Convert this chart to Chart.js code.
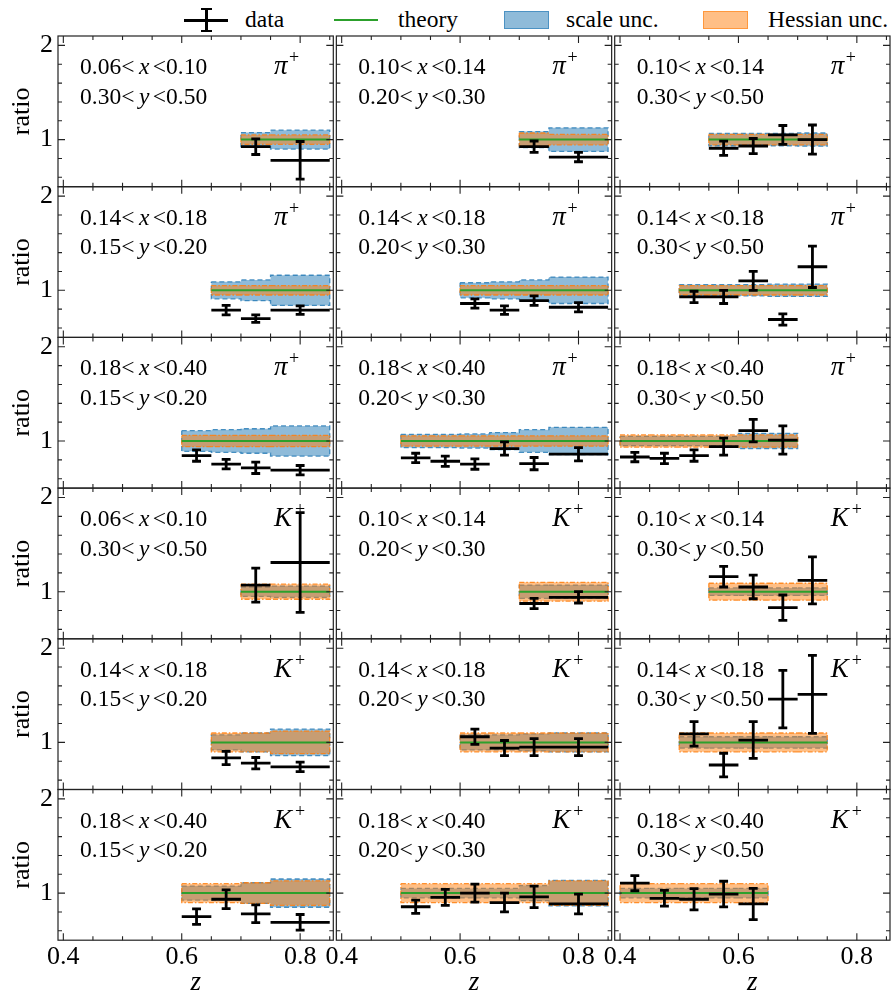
<!DOCTYPE html>
<html>
<head>
<meta charset="utf-8">
<title>Ratio to theory versus z</title>
<script src="https://cdn.jsdelivr.net/npm/chart.js@4.4.1/dist/chart.umd.min.js"></script>
<style>
  html, body { margin: 0; padding: 0; background: #fff; }
  #figure { position: relative; width: 892px; height: 995px; overflow: hidden; background: #fff; }
  #figure canvas { position: absolute; }
  .key { position: absolute; font-family: 'Liberation Serif', 'Times New Roman', serif; font-size: 23.5px; line-height: 23px; color: #000; white-space: nowrap; }
  .sw { position: absolute; box-sizing: border-box; }
</style>
</head>
<body>
<div id="figure">
  <!-- legend -->
  <div class="sw" style="left:184px;top:19px;width:44px;height:2.8px;background:#000"></div>
  <div class="sw" style="left:205px;top:8px;width:2.8px;height:24px;background:#000"></div>
  <div class="sw" style="left:201px;top:8px;width:11px;height:2.2px;background:#000"></div>
  <div class="sw" style="left:201px;top:30px;width:11px;height:2.2px;background:#000"></div>
  <div class="key" style="left:245px;top:8px">data</div>
  <div class="sw" style="left:334px;top:19px;width:44px;height:2px;background:#2ca02c"></div>
  <div class="key" style="left:398px;top:8px">theory</div>
  <div class="sw" style="left:504px;top:11px;width:45px;height:18px;background:rgba(31,119,180,0.5);border:1.5px solid rgba(31,119,180,0.6)"></div>
  <div class="key" style="left:566px;top:8px">scale unc.</div>
  <div class="sw" style="left:703px;top:11px;width:45px;height:18px;background:rgba(255,127,14,0.5);border:1.5px solid rgba(255,127,14,0.6)"></div>
  <div class="key" style="left:768px;top:8px">Hessian unc.</div>
</div>
<script>
// ---- axes ----
const zTicks = [0.4, 0.6, 0.8];
const zTickLabels = ['0.4', '0.6', '0.8'];
const ratioTicks = [1, 2];
const ratioTickLabels = ['1', '2'];
const zRange = [0.391, 0.856];
const ratioRange = [0.5, 2.1];
const theoryRatio = 1;

// ---- panels, row by row (3 columns) ----
const hadron = ['π','π','π','π','π','π','π','π','π','K','K','K','K','K','K','K','K','K'];
const xRange = [
  ['0.06','0.10'], ['0.10','0.14'], ['0.10','0.14'],
  ['0.14','0.18'], ['0.14','0.18'], ['0.14','0.18'],
  ['0.18','0.40'], ['0.18','0.40'], ['0.18','0.40'],
  ['0.06','0.10'], ['0.10','0.14'], ['0.10','0.14'],
  ['0.14','0.18'], ['0.14','0.18'], ['0.14','0.18'],
  ['0.18','0.40'], ['0.18','0.40'], ['0.18','0.40']
];
const yRange = [
  ['0.30','0.50'], ['0.20','0.30'], ['0.30','0.50'],
  ['0.15','0.20'], ['0.20','0.30'], ['0.30','0.50'],
  ['0.15','0.20'], ['0.20','0.30'], ['0.30','0.50'],
  ['0.30','0.50'], ['0.20','0.30'], ['0.30','0.50'],
  ['0.15','0.20'], ['0.20','0.30'], ['0.30','0.50'],
  ['0.15','0.20'], ['0.20','0.30'], ['0.30','0.50']
];
// z bin edges
const zEdges = [
  [0.70, 0.75, 0.85],
  [0.70, 0.75, 0.85],
  [0.55, 0.60, 0.65, 0.70, 0.75],
  [0.65, 0.70, 0.75, 0.85],
  [0.60, 0.65, 0.70, 0.75, 0.85],
  [0.50, 0.55, 0.60, 0.65, 0.70, 0.75],
  [0.60, 0.65, 0.70, 0.75, 0.85],
  [0.50, 0.55, 0.60, 0.65, 0.70, 0.75, 0.85],
  [0.40, 0.45, 0.50, 0.55, 0.60, 0.65, 0.70],
  [0.70, 0.75, 0.85],
  [0.70, 0.75, 0.85],
  [0.55, 0.60, 0.65, 0.70, 0.75],
  [0.65, 0.70, 0.75, 0.85],
  [0.60, 0.65, 0.70, 0.75, 0.85],
  [0.50, 0.55, 0.60, 0.65, 0.70, 0.75],
  [0.60, 0.65, 0.70, 0.75, 0.85],
  [0.50, 0.55, 0.60, 0.65, 0.70, 0.75, 0.85],
  [0.40, 0.45, 0.50, 0.55, 0.60, 0.65]
];
// measured data / theory
const ratio = [
  [0.925, 0.78],
  [0.925, 0.815],
  [0.908, 0.932, 1.05, 1.0],
  [0.79, 0.70, 0.79],
  [0.86, 0.79, 0.89, 0.82],
  [0.93, 0.93, 1.10, 0.69, 1.25],
  [0.845, 0.755, 0.715, 0.69],
  [0.82, 0.785, 0.755, 0.92, 0.76, 0.86],
  [0.83, 0.815, 0.845, 0.94, 1.11, 1.01],
  [1.07, 1.31],
  [0.875, 0.94],
  [1.16, 1.05, 0.83, 1.12],
  [0.835, 0.78, 0.74],
  [1.06, 0.94, 0.95, 0.95],
  [1.09, 0.76, 1.025, 1.46, 1.51],
  [0.75, 0.935, 0.78, 0.69],
  [0.855, 0.955, 1.0, 0.90, 0.96, 0.885],
  [1.105, 0.945, 0.935, 0.99, 0.885]
];
const ratioErr = [
  [0.083, 0.20],
  [0.06, 0.05],
  [0.076, 0.08, 0.10, 0.155],
  [0.05, 0.04, 0.045],
  [0.05, 0.045, 0.05, 0.05],
  [0.06, 0.07, 0.10, 0.06, 0.22],
  [0.06, 0.05, 0.06, 0.05],
  [0.05, 0.055, 0.055, 0.07, 0.065, 0.07],
  [0.05, 0.055, 0.06, 0.09, 0.12, 0.15],
  [0.18, 0.53],
  [0.055, 0.06],
  [0.11, 0.125, 0.135, 0.25],
  [0.07, 0.06, 0.05],
  [0.08, 0.08, 0.09, 0.09],
  [0.13, 0.125, 0.195, 0.305, 0.415],
  [0.083, 0.10, 0.094, 0.083],
  [0.07, 0.085, 0.095, 0.10, 0.115, 0.105],
  [0.08, 0.083, 0.113, 0.136, 0.166]
];
// half-widths of the uncertainty bands around the theory
const scaleUnc = [
  [0.075, 0.10],
  [0.085, 0.125],
  [0.065, 0.065, 0.065, 0.07],
  [0.09, 0.11, 0.16],
  [0.08, 0.09, 0.11, 0.14],
  [0.06, 0.06, 0.06, 0.065, 0.065],
  [0.11, 0.12, 0.13, 0.16],
  [0.07, 0.07, 0.075, 0.09, 0.12, 0.145],
  [0.05, 0.05, 0.05, 0.05, 0.08, 0.08],
  [0.05, 0.06],
  [0.07, 0.07],
  [0.04, 0.04, 0.04, 0.04],
  [0.08, 0.10, 0.14],
  [0.08, 0.08, 0.09, 0.10],
  [0.06, 0.06, 0.06, 0.06, 0.06],
  [0.075, 0.075, 0.11, 0.15],
  [0.05, 0.05, 0.05, 0.05, 0.08, 0.135],
  [0.05, 0.05, 0.05, 0.05, 0.05]
];
const hessUnc = [
  [0.05, 0.05],
  [0.07, 0.055],
  [0.055, 0.055, 0.055, 0.055],
  [0.05, 0.05, 0.05],
  [0.05, 0.05, 0.05, 0.05],
  [0.05, 0.05, 0.05, 0.05, 0.05],
  [0.06, 0.06, 0.06, 0.06],
  [0.055, 0.055, 0.055, 0.055, 0.055, 0.055],
  [0.065, 0.065, 0.065, 0.065, 0.065, 0.065],
  [0.08, 0.08],
  [0.10, 0.10],
  [0.09, 0.09, 0.09, 0.09],
  [0.10, 0.10, 0.12],
  [0.10, 0.10, 0.10, 0.10],
  [0.10, 0.10, 0.10, 0.10, 0.10],
  [0.10, 0.10, 0.11, 0.13],
  [0.10, 0.10, 0.10, 0.10, 0.10, 0.13],
  [0.10, 0.10, 0.10, 0.10, 0.10]
];

// ---- figure geometry ----
const NCOL = 3, NROW = 6;
const COL0 = 58, COLSTEP = 278.35, ROW0 = 36, ROWSTEP = 150.7;
const PW = 275.3, PH = 150.7;
const MARGIN = { l: 58, t: 24, r: 24, b: 62 };
const SERIF = "'Liberation Serif', 'Times New Roman', serif";
const CAP = 0.0075;
const LABEL_PX = 23.5;

function errorBarPoints(edges, vals, errs) {
  const pts = [];
  vals.forEach((v, i) => {
    const lo = edges[i], hi = edges[i + 1], z = (lo + hi) / 2, e = errs[i];
    pts.push({ x: lo, y: v }, { x: hi, y: v }, { x: z, y: null });
    pts.push({ x: z, y: v - e }, { x: z, y: v + e }, { x: z, y: null });
    pts.push({ x: z - CAP, y: v - e }, { x: z + CAP, y: v - e }, { x: z, y: null });
    pts.push({ x: z - CAP, y: v + e }, { x: z + CAP, y: v + e }, { x: z, y: null });
  });
  return pts;
}

function bandPolygon(edges, half) {
  const up = [], dn = [];
  half.forEach((h, i) => { up.push({ x: edges[i], y: theoryRatio + h }, { x: edges[i + 1], y: theoryRatio + h }); });
  for (let i = half.length - 1; i >= 0; i--) {
    dn.push({ x: edges[i + 1], y: theoryRatio - half[i] }, { x: edges[i], y: theoryRatio - half[i] });
  }
  return up.concat(dn, [up[0]]);
}

function drawRange(ctx, x, yb, lo, v, hi) {
  ctx.font = `${LABEL_PX}px ${SERIF}`;
  ctx.fillText(lo + '<', x, yb);
  x += ctx.measureText(lo + '<').width + 4.5;
  ctx.font = `italic ${LABEL_PX}px ${SERIF}`;
  ctx.fillText(v, x, yb);
  x += ctx.measureText(v).width + 3.5;
  ctx.font = `${LABEL_PX}px ${SERIF}`;
  ctx.fillText('<' + hi, x, yb);
}

// spines, inward ticks and the bin labels of each panel
const panelDecor = {
  id: 'panelDecor',
  afterDatasetsDraw(chart) {
    const { ctx, chartArea: a } = chart;
    const xs = chart.scales.x, ys = chart.scales.y;
    ctx.save();
    ctx.strokeStyle = '#222';
    ctx.lineWidth = 1.1;
    ctx.beginPath();
    for (let k = 8; k <= 17; k++) {
      const v = k * 0.05;
      const px = xs.getPixelForValue(v);
      if (px < a.left || px > a.right) continue;
      const len = zTicks.some(t => Math.abs(t - v) < 1e-9) ? 7 : 4;
      ctx.moveTo(px, a.bottom); ctx.lineTo(px, a.bottom - len);
      ctx.moveTo(px, a.top); ctx.lineTo(px, a.top + len);
    }
    for (let k = 3; k <= 10; k++) {
      const v = k * 0.2;
      const py = ys.getPixelForValue(v);
      if (py < a.top || py > a.bottom) continue;
      const len = ratioTicks.some(t => Math.abs(t - v) < 1e-9) ? 7 : 4;
      ctx.moveTo(a.left, py); ctx.lineTo(a.left + len, py);
      ctx.moveTo(a.right, py); ctx.lineTo(a.right - len, py);
    }
    ctx.stroke();
    ctx.lineWidth = 1.2;
    ctx.strokeRect(a.left, a.top, a.right - a.left, a.bottom - a.top);
    ctx.restore();
  },
  afterDraw(chart, args, opts) {
    const i = opts.index;
    const { ctx, chartArea: a } = chart;
    ctx.save();
    ctx.fillStyle = '#000';
    ctx.textBaseline = 'alphabetic';
    ctx.textAlign = 'left';
    drawRange(ctx, a.left + 22, a.top + 38, xRange[i][0], 'x', xRange[i][1]);
    drawRange(ctx, a.left + 22, a.top + 67.5, yRange[i][0], 'y', yRange[i][1]);
    ctx.font = `italic 27px ${SERIF}`;
    const hx = a.left + 216;
    ctx.fillText(hadron[i], hx, a.top + 38);
    const w = ctx.measureText(hadron[i]).width;
    ctx.font = `18px ${SERIF}`;
    ctx.fillText('+', hx + w + (hadron[i] === 'K' ? 3 : 1.5), a.top + 27);
    ctx.restore();
  }
};

const fig = document.getElementById('figure');

for (let r = 0; r < NROW; r++) {
  for (let c = 0; c < NCOL; c++) {
    const idx = r * NCOL + c;
    const firstCol = c === 0, lastRow = r === NROW - 1;
    const pl = COL0 + c * COLSTEP, pt = ROW0 + r * ROWSTEP;
    const cl = Math.floor(pl) - MARGIN.l, ct = Math.floor(pt) - MARGIN.t;
    const axisW = pl - cl;
    const padTop = pt - ct;
    const cw = Math.ceil(axisW + PW + MARGIN.r), ch = Math.ceil(padTop + PH + MARGIN.b);
    const padRight = cw - axisW - PW;
    const axisH = ch - padTop - PH;
    const titlePadB = Math.max(0, (ct + ch) - 983 - 27 * 1.2 / 2);

    const cv = document.createElement('canvas');
    cv.width = cw; cv.height = ch;
    cv.style.left = cl + 'px'; cv.style.top = ct + 'px';
    cv.style.width = cw + 'px'; cv.style.height = ch + 'px';
    fig.appendChild(cv);

    const edges = zEdges[idx];
    new Chart(cv, {
      type: 'line',
      data: {
        datasets: [
          { label: 'data', data: errorBarPoints(edges, ratio[idx], ratioErr[idx]),
            borderColor: '#000', borderWidth: 2.8, pointRadius: 0, fill: false, spanGaps: false, order: 0 },
          { label: 'theory', data: [{ x: edges[0], y: theoryRatio }, { x: edges[edges.length - 1], y: theoryRatio }],
            borderColor: '#2ca02c', borderWidth: 2, pointRadius: 0, fill: false, order: 1 },
          { label: 'Hessian unc.', data: bandPolygon(edges, hessUnc[idx]),
            borderColor: 'rgba(255,127,14,0.85)', borderDash: [5, 2, 1.5, 2], borderWidth: 1.3,
            backgroundColor: 'rgba(255,127,14,0.5)', fill: 'shape', pointRadius: 0, order: 2 },
          { label: 'scale unc.', data: bandPolygon(edges, scaleUnc[idx]),
            borderColor: 'rgba(31,119,180,0.8)', borderDash: [5, 3], borderWidth: 1.3,
            backgroundColor: 'rgba(31,119,180,0.5)', fill: 'shape', pointRadius: 0, order: 3 }
        ]
      },
      options: {
        responsive: false,
        animation: false,
        devicePixelRatio: 1,
        events: [],
        layout: { padding: { left: 0, top: padTop, right: padRight, bottom: 0 } },
        plugins: {
          legend: { display: false },
          tooltip: { enabled: false },
          panelDecor: { index: idx }
        },
        scales: {
          x: {
            type: 'linear', position: 'bottom', min: zRange[0], max: zRange[1],
            grid: { display: false, drawTicks: false },
            border: { display: false },
            ticks: {
              display: lastRow, padding: 1, color: '#000',
              font: { family: SERIF, size: 26 },
              callback: v => zTickLabels[zTicks.findIndex(t => Math.abs(t - v) < 1e-9)]
            },
            afterBuildTicks: s => { s.ticks = zTicks.map(v => ({ value: v })); },
            afterFit: s => {
              s.height = axisH;
              s.paddingLeft = s.paddingRight = s.paddingTop = s.paddingBottom = 0;
            },
            title: {
              display: lastRow, text: 'z', color: '#000',
              font: { family: SERIF, size: 27, style: 'italic' },
              padding: { top: 0, bottom: titlePadB }
            }
          },
          y: {
            type: 'linear', position: 'left', min: ratioRange[0], max: ratioRange[1],
            grid: { display: false, drawTicks: false },
            border: { display: false },
            ticks: {
              display: firstCol, padding: 5, color: '#000',
              font: { family: SERIF, size: 26 },
              callback: v => ratioTickLabels[ratioTicks.findIndex(t => Math.abs(t - v) < 1e-9)]
            },
            afterBuildTicks: s => { s.ticks = ratioTicks.map(v => ({ value: v })); },
            afterFit: s => {
              s.width = axisW;
              s.paddingLeft = s.paddingRight = s.paddingTop = s.paddingBottom = 0;
            },
            title: {
              display: firstCol, text: 'ratio', color: '#000',
              font: { family: SERIF, size: 26 },
              padding: { top: 6.8, bottom: 0 }
            }
          }
        }
      },
      plugins: [panelDecor]
    });
  }
}
</script>
</body>
</html>
